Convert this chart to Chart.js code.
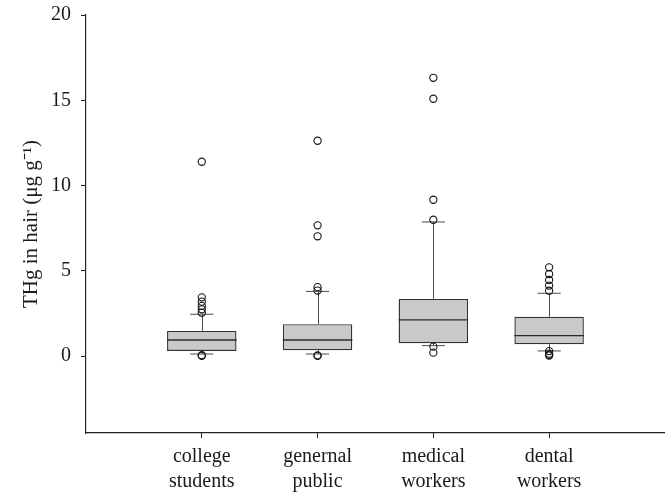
<!DOCTYPE html>
<html>
<head>
<meta charset="utf-8">
<script src="https://cdn.jsdelivr.net/npm/chart.js@4/dist/chart.umd.min.js"></script>
<style>
  html, body { margin: 0; padding: 0; background: #fff; }
  canvas { display: block; }
</style>
</head>
<body>
<canvas id="chart" width="670" height="494"></canvas>
<script>
// Group names (two-line tick labels)
const categories = [
  ['college', 'students'],
  ['genernal', 'public'],
  ['medical', 'workers'],
  ['dental', 'workers']
];

// Box statistics per group (µg g-1)
const lowerWhisker = [0.13, 0.13, 0.62, 0.31];
const quartile1    = [0.31, 0.35, 0.76, 0.70];
const median       = [0.95, 0.95, 2.13, 1.21];
const quartile3    = [1.48, 1.88, 3.36, 2.32];
const upperWhisker = [2.46, 3.80, 7.87, 3.69];

// Outlying values per group
const outliers = [
  [0.02, 0.06, 2.55, 2.75, 2.95, 3.20, 3.45, 11.40],
  [0.02, 0.05, 3.85, 4.05, 7.03, 7.67, 12.63],
  [0.21, 0.56, 8.00, 9.17, 15.09, 16.32],
  [0.04, 0.08, 0.15, 0.30, 3.84, 4.14, 4.47, 4.82, 5.21]
];

// Axis ticks
const yTicks = [0, 5, 10, 15, 20];
const yTitle = 'THg in hair (\u03BCg g\u207B\u00B9)';

const positions = categories.map((_, i) => i + 1);

const boxData = positions.map((x, i) => ({ x: x, y: [quartile1[i], quartile3[i]] }));
const outlierData = [];
outliers.forEach((vals, i) => vals.forEach(v => outlierData.push({ x: positions[i], y: v })));

const FONT = 'Liberation Serif, Times New Roman, serif';
const CAP_HALF = 0.1;

// Whiskers, caps and median lines, placed through the chart's scales
const boxParts = {
  id: 'boxParts',
  beforeDatasetsDraw(chart) {
    const { ctx, scales: { x, y } } = chart;
    ctx.save();
    ctx.strokeStyle = '#4a4a4a';
    ctx.lineWidth = 1;
    positions.forEach((p, i) => {
      const cx = Math.round(x.getPixelForValue(p)) + 0.5;
      const xl = x.getPixelForValue(p - CAP_HALF);
      const xr = x.getPixelForValue(p + CAP_HALF);
      const yHi = y.getPixelForValue(upperWhisker[i]);
      const yQ3 = y.getPixelForValue(quartile3[i]);
      const yLo = y.getPixelForValue(lowerWhisker[i]);
      const yQ1 = y.getPixelForValue(quartile1[i]);
      ctx.beginPath();
      ctx.moveTo(cx, yQ3); ctx.lineTo(cx, yHi);
      ctx.moveTo(xl, yHi); ctx.lineTo(xr, yHi);
      ctx.moveTo(cx, yQ1); ctx.lineTo(cx, yLo);
      ctx.moveTo(xl, yLo); ctx.lineTo(xr, yLo);
      ctx.stroke();
    });
    ctx.restore();
  },
  afterDatasetDraw(chart, args) {
    if (args.meta.type !== 'bar') return;
    const { ctx, scales: { y } } = chart;
    ctx.save();
    ctx.strokeStyle = '#2a2a2a';
    ctx.lineWidth = 1.3;
    args.meta.data.forEach((bar, i) => {
      const half = bar.width / 2;
      const ym = y.getPixelForValue(median[i]);
      ctx.beginPath();
      ctx.moveTo(bar.x - half, ym);
      ctx.lineTo(bar.x + half, ym);
      ctx.stroke();
    });
    ctx.restore();
  }
};

new Chart(document.getElementById('chart'), {
  type: 'bar',
  data: {
    datasets: [
      {
        type: 'scatter',
        data: outlierData,
        order: 0,
        pointRadius: 3.6,
        pointBorderWidth: 1.1,
        pointBorderColor: '#151515',
        pointBackgroundColor: 'rgba(0,0,0,0)',
        showLine: false
      },
      {
        type: 'bar',
        data: boxData,
        order: 1,
        backgroundColor: '#c9c9c9',
        borderColor: '#333333',
        borderWidth: 1.4,
        borderSkipped: false,
        barPercentage: 0.6,
        categoryPercentage: 1.0
      }
    ]
  },
  options: {
    responsive: false,
    animation: false,
    devicePixelRatio: 1,
    layout: { padding: { top: 15, right: 5, left: 0, bottom: 0 } },
    plugins: { legend: { display: false }, tooltip: { enabled: false } },
    scales: {
      x: {
        type: 'linear',
        min: 0,
        max: 5,
        offset: false,
        afterBuildTicks(axis) { axis.ticks = positions.map(v => ({ value: v })); },
        afterFit(axis) { axis.height = 61; },
        grid: { display: true, offset: false, drawOnChartArea: false, drawTicks: true, tickLength: 5, color: '#222', lineWidth: 1 },
        border: { display: true, color: '#222', width: 1.2 },
        ticks: {
          color: '#1a1a1a',
          font: { family: FONT, size: 20, lineHeight: 1.22 },
          padding: 7,
          maxRotation: 0,
          autoSkip: false,
          callback: (v) => categories[v - 1] || ''
        }
      },
      y: {
        type: 'linear',
        min: -4.5,
        max: 20,
        afterBuildTicks(axis) { axis.ticks = yTicks.map(v => ({ value: v })); },
        afterFit(axis) { axis.width = 86; axis.paddingTop = 0; axis.paddingBottom = 0; },
        grid: { display: true, offset: false, drawOnChartArea: false, drawTicks: true, tickLength: 5, color: '#222', lineWidth: 1 },
        border: { display: true, color: '#222', width: 1.2 },
        ticks: {
          color: '#1a1a1a',
          font: { family: FONT, size: 20 },
          padding: 10
        },
        title: {
          display: true,
          text: yTitle,
          color: '#1a1a1a',
          font: { family: FONT, size: 21 },
          padding: { top: 19, bottom: 0 }
        }
      }
    }
  },
  plugins: [boxParts]
});
</script>
</body>
</html>
